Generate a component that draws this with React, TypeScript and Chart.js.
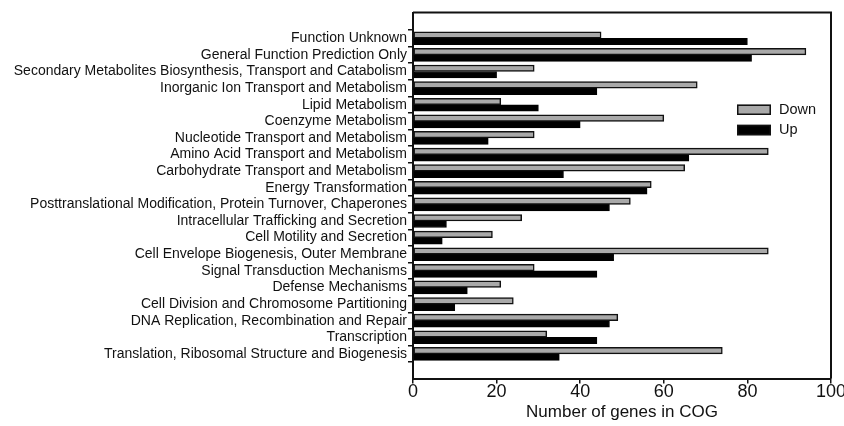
import React, { useEffect, useRef } from "react";
import { Chart, registerables } from "chart.js";

Chart.register(...registerables);

const categories = [
  "Function Unknown",
  "General Function Prediction Only",
  "Secondary Metabolites Biosynthesis, Transport and Catabolism",
  "Inorganic Ion Transport and Metabolism",
  "Lipid Metabolism",
  "Coenzyme Metabolism",
  "Nucleotide Transport and Metabolism",
  "Amino Acid Transport and Metabolism",
  "Carbohydrate Transport and Metabolism",
  "Energy Transformation",
  "Posttranslational Modification, Protein Turnover, Chaperones",
  "Intracellular Trafficking and Secretion",
  "Cell Motility and Secretion",
  "Cell Envelope Biogenesis, Outer Membrane",
  "Signal Transduction Mechanisms",
  "Defense Mechanisms",
  "Cell Division and Chromosome Partitioning",
  "DNA Replication, Recombination and Repair",
  "Transcription",
  "Translation, Ribosomal Structure and Biogenesis",
];

const downValues = [45, 94, 29, 68, 21, 60, 29, 85, 65, 57, 52, 26, 19, 85, 29, 21, 24, 49, 32, 74];
const upValues = [80, 81, 20, 44, 30, 40, 18, 66, 36, 56, 47, 8, 7, 48, 44, 13, 10, 47, 44, 35];
const seriesNames = ["Down", "Up"];
const xTicks = [0, 20, 40, 60, 80, 100];
const xTitle = "Number of genes in COG";

const FONT = '"Liberation Sans", Arial, Helvetica, sans-serif';
const INK = "#111";

const framePlugin = {
  id: "frameAndLegend",
  afterDraw(chart: any) {
    const { ctx, chartArea } = chart;
    ctx.save();
    ctx.strokeStyle = INK;
    ctx.lineWidth = 2;
    ctx.beginPath();
    ctx.moveTo(chartArea.left, chartArea.top);
    ctx.lineTo(chartArea.right, chartArea.top);
    ctx.lineTo(chartArea.right, chartArea.bottom);
    ctx.stroke();

    const x = chartArea.right - 94;
    let y = chartArea.top + 92;
    chart.data.datasets.forEach((ds: any) => {
      ctx.fillStyle = ds.backgroundColor;
      ctx.fillRect(x, y, 34, 10.5);
      ctx.strokeStyle = INK;
      ctx.lineWidth = 1.5;
      ctx.strokeRect(x + 0.75, y + 0.75, 32.5, 9);
      ctx.fillStyle = INK;
      ctx.font = "14.5px " + FONT;
      ctx.textBaseline = "middle";
      ctx.textAlign = "left";
      ctx.fillText(ds.label, x + 42, y + 5.5);
      y += 20.3;
    });
    ctx.restore();
  },
};

export default function App() {
  const canvasRef = useRef<HTMLCanvasElement | null>(null);

  useEffect(() => {
    const canvas = canvasRef.current;
    if (!canvas) return;
    const chart = new Chart(canvas, {
      type: "bar",
      data: {
        datasets: [
          {
            label: seriesNames[0],
            data: downValues.map((v, i) => ({ x: v, y: i })),
            backgroundColor: "#a9a9a9",
            borderColor: INK,
            borderWidth: 1.5,
            borderSkipped: false,
            barThickness: 6.5,
          },
          {
            label: seriesNames[1],
            data: upValues.map((v, i) => ({ x: v, y: i })),
            backgroundColor: "#000000",
            borderColor: "#000000",
            borderWidth: 1,
            borderSkipped: false,
            barThickness: 6.5,
          },
        ],
      } as any,
      options: {
        indexAxis: "y",
        animation: false,
        responsive: true,
        maintainAspectRatio: false,
        devicePixelRatio: 1,
        layout: { padding: { top: 12.5, right: 29, bottom: 0, left: 0 } },
        plugins: {
          legend: { display: false },
          tooltip: { enabled: false },
        },
        scales: {
          x: {
            type: "linear",
            position: "bottom",
            min: 0,
            max: 100,
            afterBuildTicks: (scale: any) => {
              scale.ticks = xTicks.map((v) => ({ value: v }));
            },
            afterFit: (scale: any) => {
              scale.height = 47.5;
            },
            border: { display: true, color: INK, width: 2 },
            grid: {
              drawOnChartArea: false,
              drawTicks: true,
              tickLength: 5,
              color: INK,
              lineWidth: 1.5,
            },
            ticks: {
              color: INK,
              padding: 0,
              maxRotation: 0,
              font: { family: FONT, size: 18, lineHeight: 1 },
            },
            title: {
              display: true,
              text: xTitle,
              color: INK,
              padding: { top: 0, bottom: 3.5 },
              font: { family: FONT, size: 17, lineHeight: 1.2 },
            },
          },
          y: {
            type: "linear",
            reverse: true,
            min: -1,
            max: 19.93,
            afterBuildTicks: (scale: any) => {
              scale.ticks = categories.map((_, i) => ({ value: i }));
            },
            afterFit: (scale: any) => {
              scale.width = 413;
            },
            border: { display: true, color: INK, width: 2 },
            grid: {
              drawOnChartArea: false,
              drawTicks: true,
              tickLength: 5,
              color: INK,
              lineWidth: 1.5,
            },
            ticks: {
              color: INK,
              padding: 1,
              autoSkip: false,
              font: { family: FONT, size: 14, lineHeight: 1.2 },
              callback: (value: any) => categories[value as number] ?? "",
            },
          },
        },
      } as any,
      plugins: [framePlugin],
    });
    return () => chart.destroy();
  }, []);

  return (
    <div
      style={{
        position: "fixed",
        left: 0,
        top: 0,
        width: 844,
        height: 426,
        overflow: "hidden",
        background: "#fff",
      }}
    >
      <div style={{ position: "relative", width: 860, height: 426 }}>
        <canvas ref={canvasRef} />
      </div>
    </div>
  );
}
